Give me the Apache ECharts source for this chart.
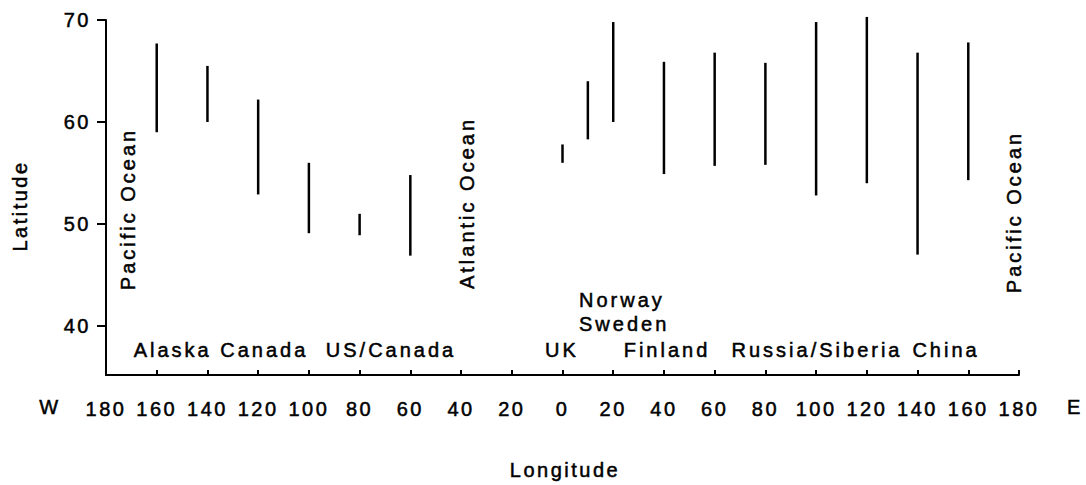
<!DOCTYPE html>
<html>
<head>
<meta charset="utf-8">
<script src="https://cdn.jsdelivr.net/npm/echarts@6/dist/echarts.min.js"></script>
<style>
  html, body { margin: 0; padding: 0; background: #fff; }
  #chart { width: 1086px; height: 485px; }
  #chart text { letter-spacing: 2.5px; }
</style>
</head>
<body>
<div id="chart"></div>
<script>
// ---- data ----
const longitudes = [-160, -140, -120, -100, -80, -60, 0, 10, 20, 40, 60, 80, 100, 120, 140, 160];
const latLow     = [59.0, 60.0, 52.9, 49.1, 48.9, 46.9, 56.0, 58.3, 60.0, 54.9, 55.7, 55.8, 52.8, 54.0, 47.0, 54.3];
const latHigh    = [67.7, 65.5, 62.2, 56.0, 51.0, 54.8, 57.8, 64.0, 69.8, 65.9, 66.8, 65.8, 69.8, 70.3, 66.8, 67.8];
const yTickValues = [40, 50, 60, 70];
const regionLabels = ['Alaska Canada', 'US/Canada', 'UK', 'Norway', 'Sweden', 'Finland', 'Russia/Siberia', 'China'];
const oceanLabels = ['Pacific Ocean', 'Atlantic Ocean', 'Pacific Ocean'];
const xAxisTitle = 'Longitude';
const yAxisTitle = 'Latitude';
const westLabel = 'W';
const eastLabel = 'E';

// ---- chart ----
const FAMILY = '"Liberation Sans", Arial, sans-serif';
const FONT = '20px ' + FAMILY;
const seriesData = longitudes.map((lon, i) => [lon, latLow[i], latHigh[i]]);

function txt(text, x, y, opts) {
  opts = opts || {};
  return {
    type: 'text', x: x, y: y, rotation: opts.rotation || 0, silent: true,
    style: {
      text: text, font: FONT, fill: '#000',
      stroke: '#000', lineWidth: 0.5,
      align: opts.align || 'center', textAlign: opts.align || 'center',
      verticalAlign: 'middle', textVerticalAlign: 'middle'
    }
  };
}

// label placements (pixels)
const regionPos = [[221, 349.5, 'center'], [391, 349.5, 'center'], [562, 349.5, 'center'],
                   [579, 300, 'left'], [579, 323.5, 'left'], [667, 349.5, 'center'],
                   [817, 349.5, 'center'], [946, 349.5, 'center']];
const oceanPos = [[128, 209], [467, 203], [1014, 212]];

const graphics = [];
regionLabels.forEach((t, i) => graphics.push(txt(t, regionPos[i][0], regionPos[i][1], {align: regionPos[i][2]})));
oceanLabels.forEach((t, i) => graphics.push(txt(t, oceanPos[i][0], oceanPos[i][1], {rotation: Math.PI / 2})));
graphics.push(txt(xAxisTitle, 565, 470));
graphics.push(txt(yAxisTitle, 20, 206, {rotation: Math.PI / 2}));
graphics.push(txt(westLabel, 50, 407));
graphics.push(txt(eastLabel, 1075, 407));

const chart = echarts.init(document.getElementById('chart'), null, {renderer: 'svg'});
chart.setOption({
  animation: false,
  backgroundColor: '#fff',
  grid: {left: 106, right: 67, top: 20, bottom: 110},
  xAxis: {
    type: 'value', min: -180, max: 180, interval: 20,
    axisLine: {show: true, onZero: false, lineStyle: {color: '#000', width: 2}},
    axisTick: {show: true, inside: true, length: 5, lineStyle: {color: '#000', width: 2}},
    axisLabel: {
      show: true, margin: 24, color: '#000', fontSize: 20, fontFamily: FAMILY,
      textBorderColor: '#000', textBorderWidth: 0.5,
      showMinLabel: true, showMaxLabel: true,
      formatter: v => String(Math.abs(v))
    },
    splitLine: {show: false}
  },
  yAxis: {
    type: 'value', min: 35.2, max: 70,
    axisLine: {show: true, onZero: false, lineStyle: {color: '#000', width: 2}},
    axisTick: {show: true, inside: false, length: 9, customValues: yTickValues, lineStyle: {color: '#000', width: 2}},
    axisLabel: {
      show: true, margin: 15, color: '#000', fontSize: 20, fontFamily: FAMILY,
      textBorderColor: '#000', textBorderWidth: 0.5,
      customValues: yTickValues
    },
    splitLine: {show: false}
  },
  series: [{
    type: 'custom',
    clip: false,
    data: seriesData,
    encode: {x: 0, y: [1, 2]},
    renderItem: function (params, api) {
      const p1 = api.coord([api.value(0), api.value(1)]);
      const p2 = api.coord([api.value(0), api.value(2)]);
      return {
        type: 'line',
        shape: {x1: p1[0], y1: p1[1], x2: p2[0], y2: p2[1]},
        style: {stroke: '#000', lineWidth: 2.5}
      };
    }
  }],
  graphic: graphics
});

function tweakSpacing() {
  const wide = new Set(regionLabels.concat(oceanLabels));
  document.querySelectorAll('#chart text').forEach(el => {
    if (wide.has(el.textContent)) el.style.letterSpacing = '3px';
  });
}
tweakSpacing();
chart.on('finished', tweakSpacing);
</script>
</body>
</html>
